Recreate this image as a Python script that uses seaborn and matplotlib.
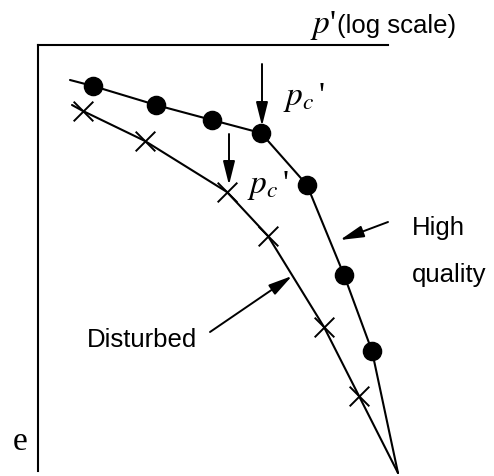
import matplotlib
matplotlib.use("Agg")
import matplotlib.pyplot as plt
import seaborn as sns

# schematic e - log p' curves (units: arbitrary)
hq_x = [55, 118, 174, 223, 269, 306, 334]
hq_e = [384.5, 365.5, 350.5, 337.5, 285.5, 195.5, 119.5]
dist_x = [45, 107, 189, 230, 286, 321]
dist_e = [359.5, 329.5, 278.5, 234.5, 143.5, 74.5]
hq_start = (32, 390.5)
dist_start = (34, 365.5)
tip = (360, -2.5)

sns.set_style("white")
plt.rcParams["font.family"] = ["Liberation Sans", "DejaVu Sans"]
plt.rcParams["mathtext.fontset"] = "stix"
plt.rcParams["text.color"] = "black"

fig = plt.figure(figsize=(4.94, 4.77), dpi=100)
ax = fig.add_axes([38 / 494, 1 - 471.5 / 477, 350 / 494, 425.5 / 477])

hq_line_x = [hq_start[0]] + hq_x + [tip[0]]
hq_line_e = [hq_start[1]] + hq_e + [tip[1]]
dist_line_x = [dist_start[0]] + dist_x + [tip[0]]
dist_line_e = [dist_start[1]] + dist_e + [tip[1]]

sns.lineplot(x=hq_line_x, y=hq_line_e, color="black", lw=1.5, sort=False,
             clip_on=False, ax=ax)
sns.lineplot(x=dist_line_x, y=dist_line_e, color="black", lw=1.5, sort=False,
             clip_on=False, ax=ax)
sns.scatterplot(x=hq_x, y=hq_e, color="black", s=170, marker="o",
                edgecolor="black", clip_on=False, zorder=3, ax=ax)
sns.scatterplot(x=dist_x, y=dist_e, color="black", s=200, marker="x",
                linewidth=1.4, clip_on=False, zorder=3, ax=ax)

ax.set_xlim(0, 350)
ax.set_ylim(0, 425.5)
ax.set_xticks([])
ax.set_yticks([])
for side in ["right", "bottom"]:
    ax.spines[side].set_visible(False)
for side in ["top", "left"]:
    ax.spines[side].set_color("black")
    ax.spines[side].set_linewidth(1.5)

arrow = dict(arrowstyle="-|>,head_length=1.2,head_width=0.3", color="black",
             lw=1.4, mutation_scale=12, shrinkA=0, shrinkB=0)
ax.annotate("", xy=(224, 344.5), xytext=(224, 406.5), arrowprops=arrow,
            annotation_clip=False)
ax.annotate("", xy=(191, 285.5), xytext=(191, 336.5), arrowprops=arrow,
            annotation_clip=False)
ax.annotate("", xy=(302, 230.5), xytext=(350, 248.5), arrowprops=arrow,
            annotation_clip=False)
ax.annotate("", xy=(254, 194.5), xytext=(172, 138.5), arrowprops=arrow,
            annotation_clip=False)

serif = dict(family=["Liberation Serif", "DejaVu Serif"], fontsize=24,
             color="black")
sans = dict(fontsize=18.5, color="black")
ax.text(245, 373.5, r"$p_c\,$'", va="center", ha="left", clip_on=False, **serif)
ax.text(209, 286.5, r"$p_c\,$'", va="center", ha="left", clip_on=False, **serif)
ax.text(272, 438.5, "$p$'", va="baseline", ha="left", clip_on=False, **serif)
ax.text(298.7, 438.5, "(log scale)", va="baseline", ha="left", clip_on=False,
        **sans)
ax.text(374, 236.5, "High", va="baseline", ha="left", clip_on=False, **sans)
ax.text(374, 189.5, "quality", va="baseline", ha="left", clip_on=False, **sans)
ax.text(48.7, 124.8, "Disturbed", va="baseline", ha="left", clip_on=False,
        **sans)
ax.text(-25, 21.5, "e", va="baseline", ha="left", clip_on=False, **serif)

fig.savefig("out.png", dpi=100)
